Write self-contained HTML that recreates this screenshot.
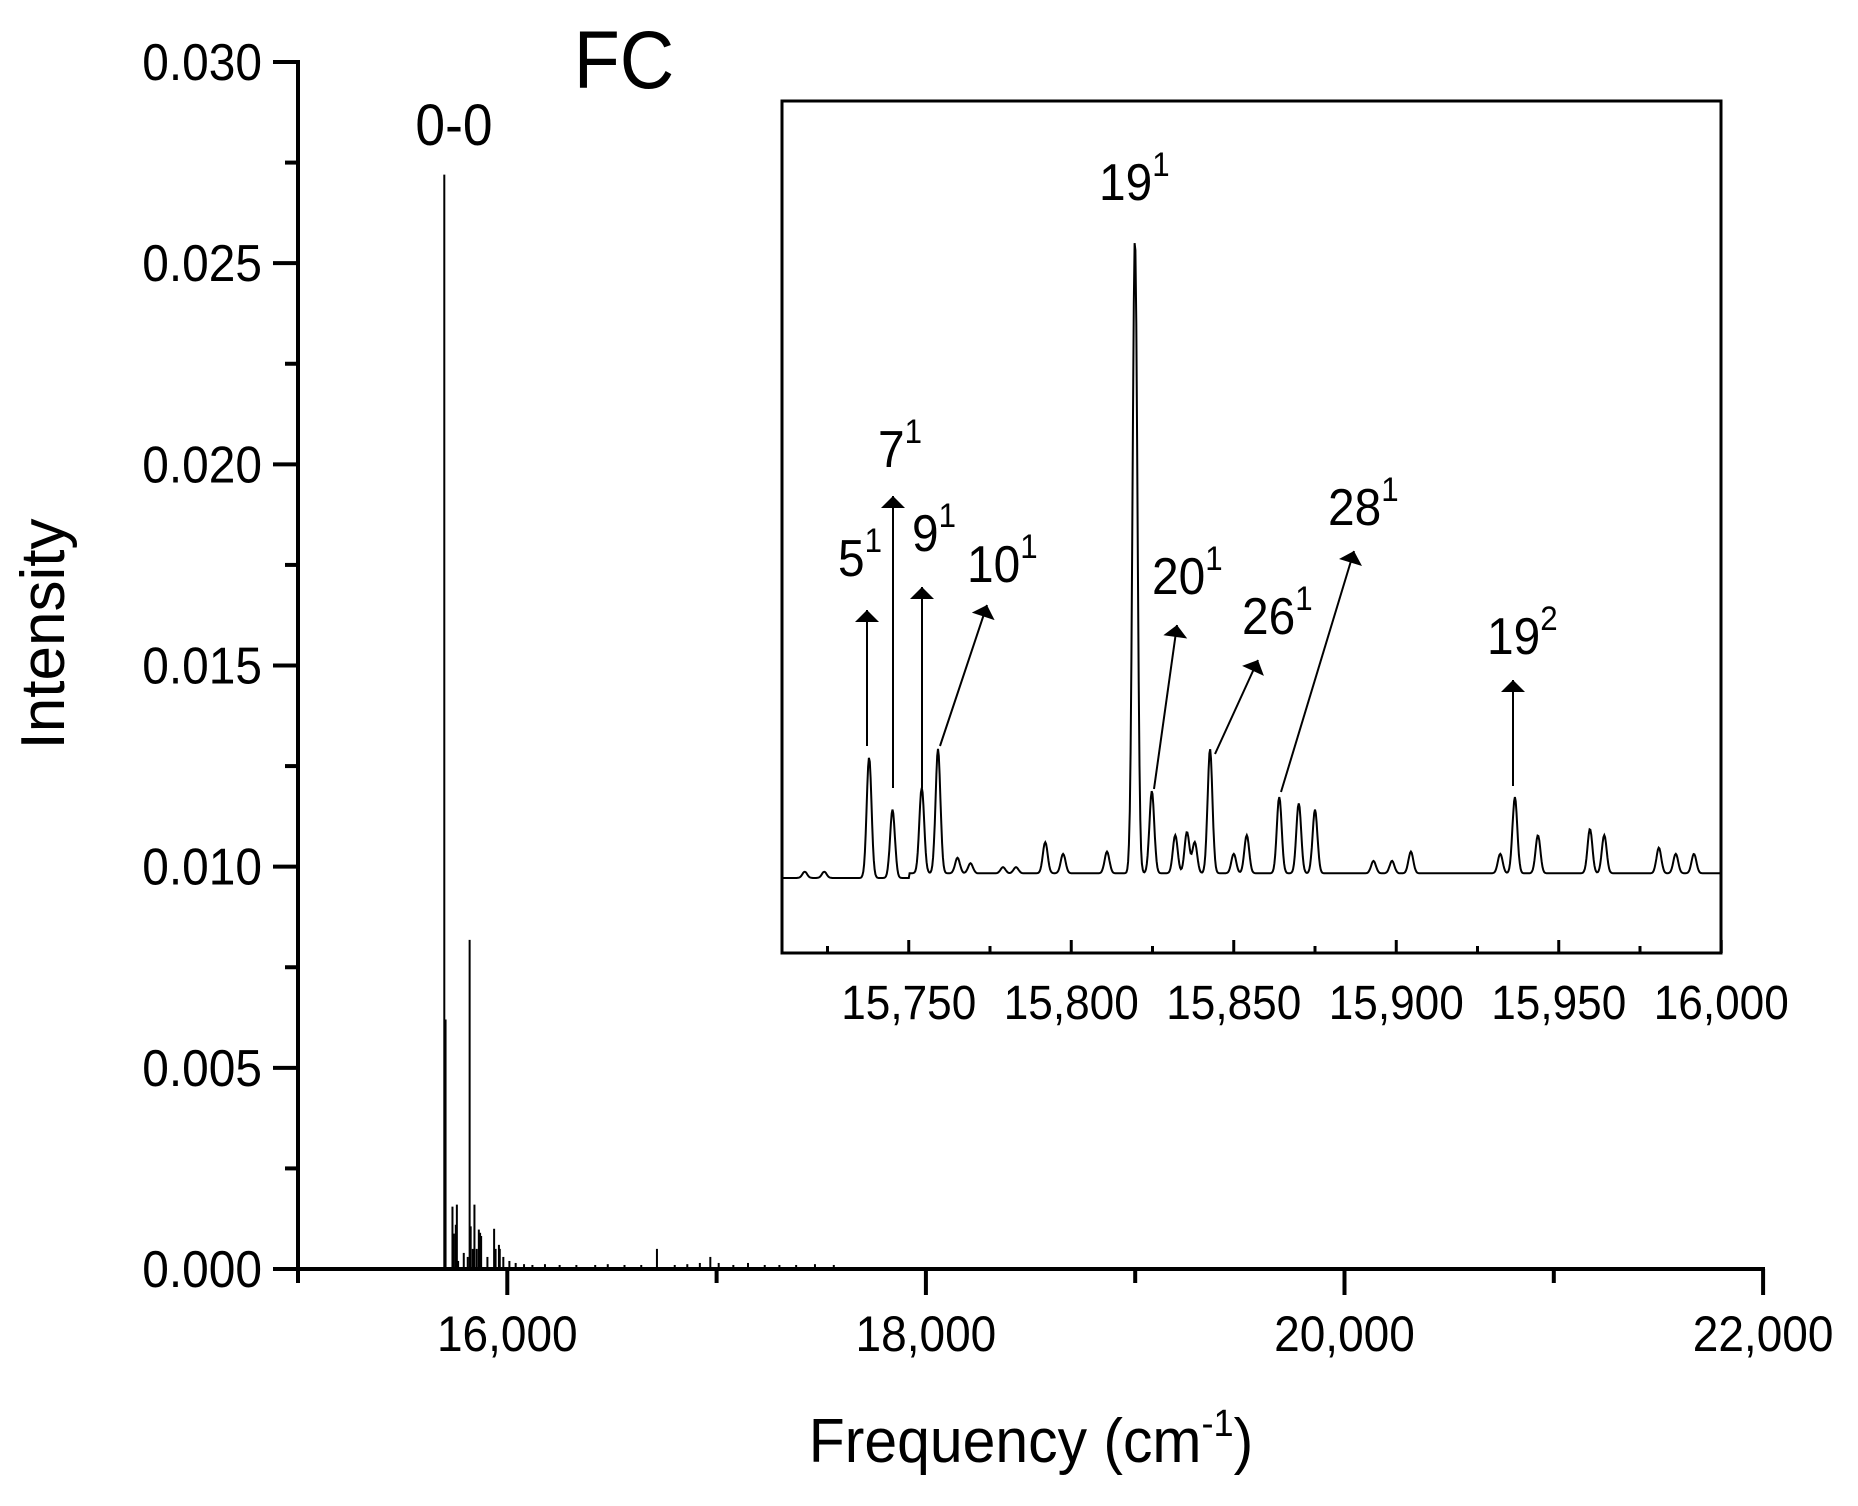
<!DOCTYPE html>
<html><head><meta charset="utf-8"><style>
html,body{margin:0;padding:0;background:#fff}
svg{display:block}
text{font-family:"Liberation Sans",Arial,sans-serif;fill:#000}
</style></head><body>
<svg id="chart" width="1858" height="1506" viewBox="0 0 1858 1506" xmlns="http://www.w3.org/2000/svg">
<defs>
<marker id="ah2" viewBox="0 0 10 20" refX="10" refY="10" markerWidth="22" markerHeight="12" orient="auto"><path d="M0,0 L10,10 L0,20 z" fill="#000"/></marker>
<clipPath id="insetClip"><rect x="782" y="101" width="939" height="852"/></clipPath></defs>
<g id="main"></g>
<g id="inset"></g>
<text x="624" y="88" font-size="82" text-anchor="middle" transform="translate(624,0) scale(0.92,1) translate(-624,0)">FC</text>
<text x="454" y="145" font-size="58" text-anchor="middle" transform="translate(454,0) scale(0.92,1) translate(-454,0)">0-0</text>
<text x="1031" y="1462" font-size="62" text-anchor="middle" transform="translate(1031,0) scale(0.95,1) translate(-1031,0)">Frequency (cm<tspan font-size="38" dy="-26">-1</tspan><tspan dy="26">)</tspan></text>
<text transform="translate(64,634) rotate(-90)" font-size="62" text-anchor="middle">Intensity</text>
</svg>
<script>
// main stick spectrum data
const mainFreqs = [15699,15705,15738,15745,15754,15759,15765,15792,15811,15820,15825,15835,15843,15854,15864,15870,15875,15905,15937,15944,15960,15964,15981,16010,16040,16080,16120,16180,16250,16330,16420,16480,16560,16640,16715,16800,16860,16920,16970,17010,17080,17150,17230,17300,17380,17470,17560];
const mainVals  = [0.0272,0.0062,0.00155,0.00088,0.0011,0.0016,0.0002,0.0004,0.0003,0.00818,0.00106,0.0005,0.0016,0.0005,0.00098,0.0009,0.00082,0.0003,0.001,0.0005,0.0006,0.0005,0.0003,0.0002,0.00015,0.00012,0.0001,0.00012,0.0001,0.0001,0.0001,0.00012,0.0001,0.0001,0.0005,0.0001,0.00012,0.00015,0.0003,0.00015,0.0001,0.00015,0.0001,0.0001,0.0001,0.00012,0.0001];
const xTicks = [16000,18000,20000,22000];
const xTickLabels = ["16,000","18,000","20,000","22,000"];
const yTicks = [0,0.005,0.010,0.015,0.020,0.025,0.030];
const yTickLabels = ["0.000","0.005","0.010","0.015","0.020","0.025","0.030"];
// inset data
const insetPeakFreqs = [15718,15724,15737.8,15745,15754,15759,15765,15769,15779,15783,15792,15797.5,15811,15819.6,15824.8,15832,15835.6,15838,15842.7,15850,15854,15864,15870,15875,15893,15898.7,15904.5,15932,15936.5,15943.6,15959.6,15964,15980.8,15986,15991.6];
const insetPeakVals  = [0.00008,0.00008,0.00155,0.00088,0.0011,0.0016,0.0002,0.00013,0.00008,0.00008,0.0004,0.00025,0.00028,0.00818,0.00106,0.00049,0.00053,0.0004,0.0016,0.00025,0.00049,0.00098,0.0009,0.00082,0.00016,0.00016,0.00028,0.00025,0.00098,0.00049,0.00057,0.00049,0.00033,0.00025,0.00025];
const insetTicks = [15750,15800,15850,15900,15950,16000];
const insetTickLabels = ["15,750","15,800","15,850","15,900","15,950","16,000"];

const NS="http://www.w3.org/2000/svg";
function mk(tag,attrs,parent){const e=document.createElementNS(NS,tag);for(const k in attrs)e.setAttribute(k,attrs[k]);parent.appendChild(e);return e;}
const X=v=>298+(v-15000)/1000*209.3;
const Y=v=>1269-v/0.030*1207;
const main=document.getElementById('main');
mainFreqs.forEach((f,i)=>{const l=mk('line',{x1:X(f),x2:X(f),y1:Y(0),y2:Y(mainVals[i]),stroke:'#000','stroke-width':2},main);

});
let ax=mk('line',{x1:298,x2:298,y1:60,y2:1271,stroke:'#000','stroke-width':4},main);


ax=mk('line',{x1:296,x2:1765,y1:1269,y2:1269,stroke:'#000','stroke-width':4},main);


for(let v=15000;v<=22000;v+=1000){const maj=v%2000===0;mk('line',{x1:X(v),x2:X(v),y1:1269,y2:maj?1295:1283,stroke:'#000','stroke-width':4},main);}
xTicks.forEach((v,i)=>{const t=mk('text',{x:X(v),y:1351,'font-size':50,'text-anchor':'middle',transform:`translate(${X(v)},0) scale(0.92,1) translate(${-X(v)},0)`},main);t.textContent=xTickLabels[i];

});
for(let k=0;k<=12;k++){const v=k*0.0025;const maj=k%2===0;mk('line',{x1:maj?273:285,x2:298,y1:Y(v),y2:Y(v),stroke:'#000','stroke-width':4},main);}
yTicks.forEach((v,i)=>{const t=mk('text',{x:262,y:Y(v)+18,'font-size':52,'text-anchor':'end',transform:'translate(262,0) scale(0.92,1) translate(-262,0)'},main);t.textContent=yTickLabels[i];

});
// inset
const inset=document.getElementById('inset');
const IX=v=>782+(v-15711)*3.25;
const IY=v=>878-v/0.00818*636;
let r=mk('rect',{x:782,y:101,width:939,height:852,fill:'#fff',stroke:'#000','stroke-width':3},inset);


let pts=[];
for(let f=15711;f<=16000;f+=0.25){let s=f>15750?0.00006:0;insetPeakFreqs.forEach((p,i)=>{const d=(f-p)/1.05;s+=insetPeakVals[i]*Math.exp(-d*d);});pts.push(IX(f).toFixed(1)+','+IY(s).toFixed(1));}
let pl=mk('polyline',{points:pts.join(' '),fill:'none',stroke:'#000','stroke-width':2,'clip-path':'url(#insetClip)'},inset);


for(let v=15725;v<=16000;v+=25){const maj=v%50===0;mk('line',{x1:IX(v),x2:IX(v),y1:953,y2:maj?940:946,stroke:'#000','stroke-width':3},inset);}
insetTicks.forEach((v,i)=>{const t=mk('text',{x:IX(v),y:1019,'font-size':48,'text-anchor':'middle',transform:`translate(${IX(v)},0) scale(0.92,1) translate(${-IX(v)},0)`},inset);t.textContent=insetTickLabels[i];

});
const ann=[["5","1",838,576,867,746,867,610],["7","1",878,467,893,788,893,496],["9","1",912,551,922,788,922,587],["10","1",967,582,940,746,987,605],["19","1",1099,200,null],["20","1",1152,594,1154,789,1177,625],["26","1",1242,634,1215,754,1258,660],["28","1",1328,525,1281,792,1354,551],["19","2",1487,654,1513,786,1513,680]];
ann.forEach(a=>{const t=mk('text',{x:a[2],y:a[3],'font-size':52,transform:`translate(${a[2]},0) scale(0.92,1) translate(${-a[2]},0)`},inset);t.innerHTML=a[0]+'<tspan font-size="34" dy="-24">'+a[1]+'</tspan>';


if(a[4]!==null){const l=mk('line',{x1:a[4],y1:a[5],x2:a[6],y2:a[7],stroke:'#000','stroke-width':2,'marker-end':'url(#ah2)'},inset);

}});
</script>
</body></html>
